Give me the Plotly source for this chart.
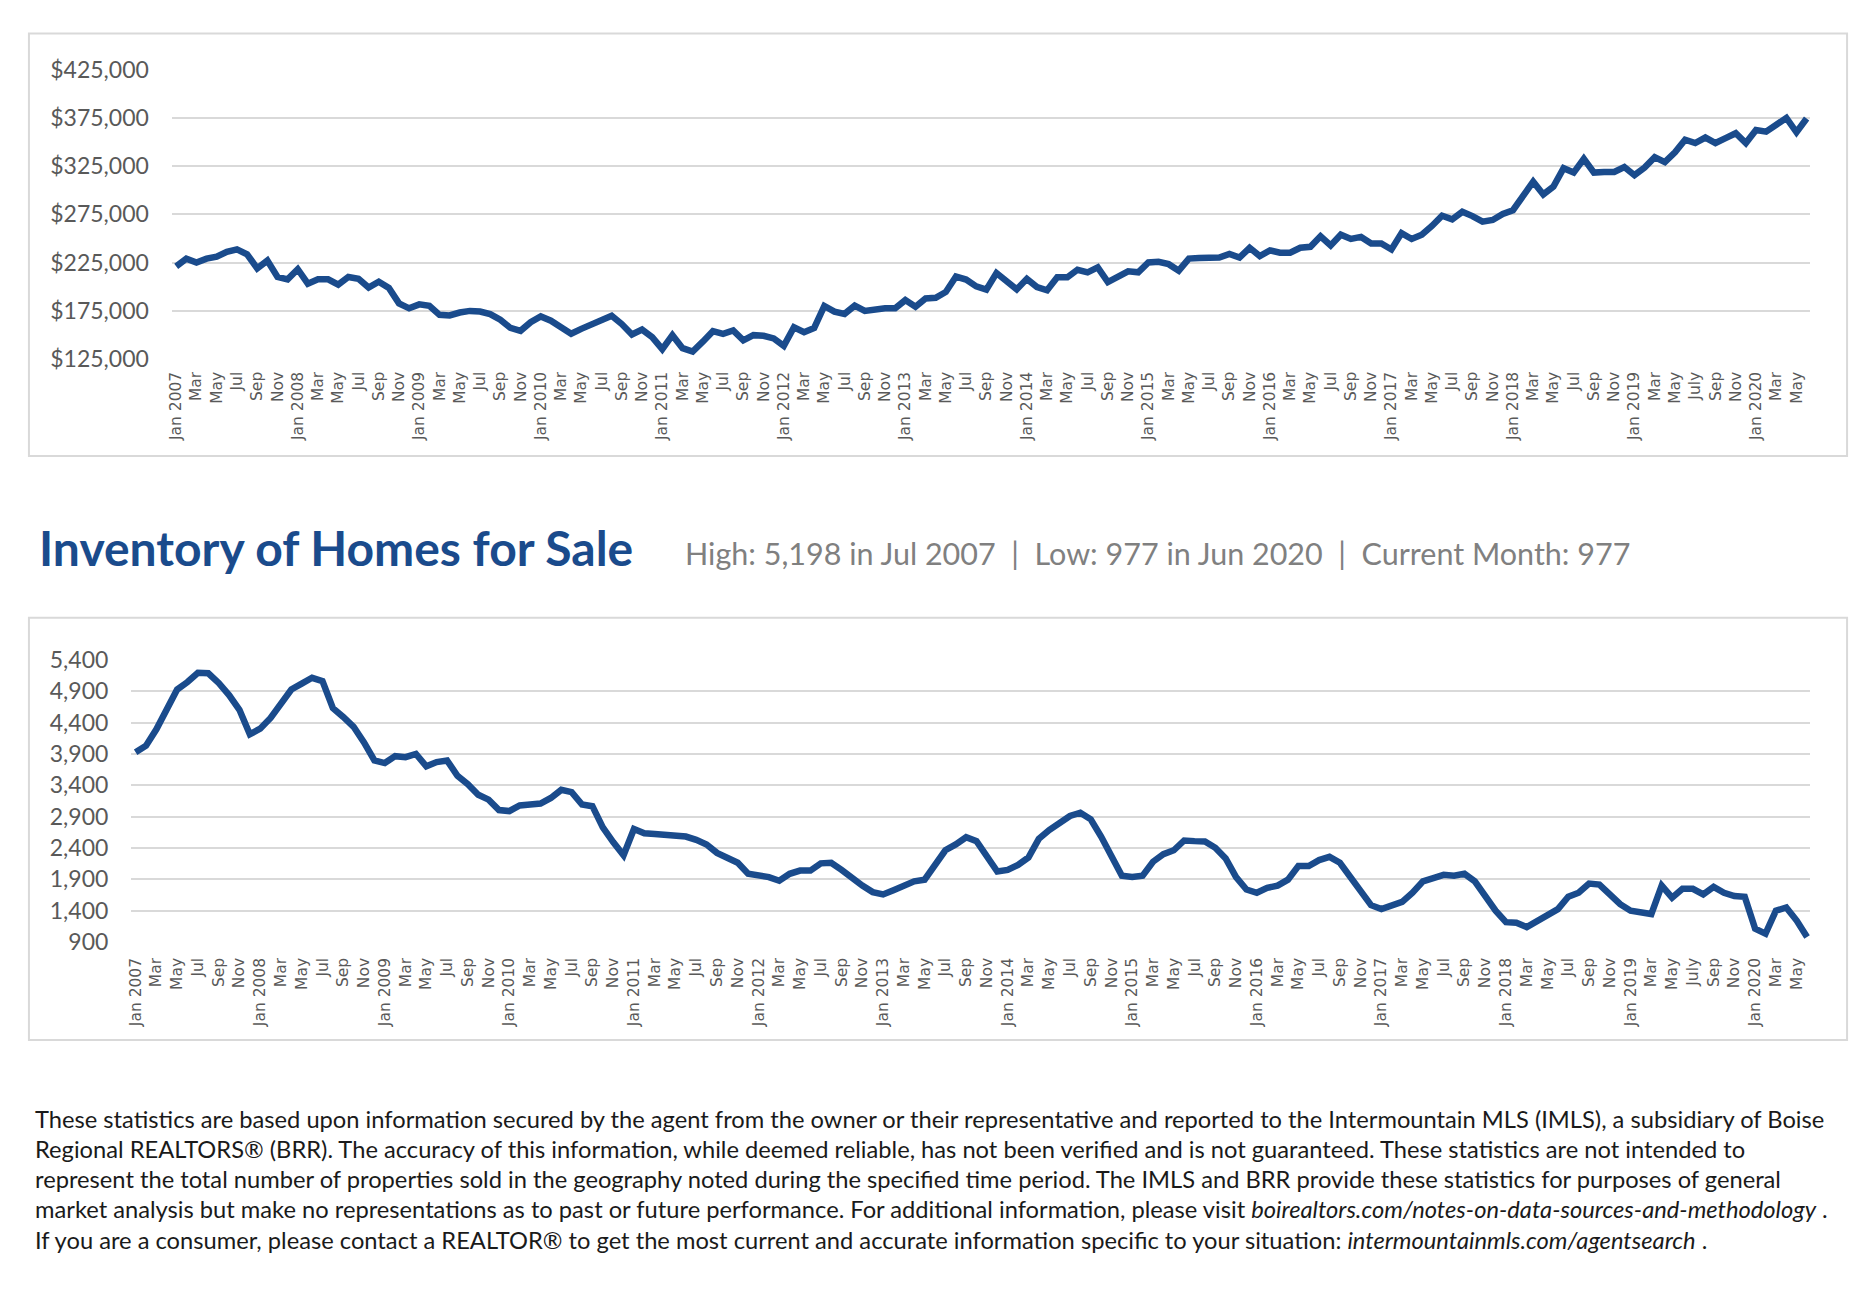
import plotly.graph_objects as go

W, H = 1870, 1304

# Median sales price by month, Jan 2007 - Jun 2020
price = [
    221000, 229000, 225000, 229000, 231000, 236000, 238600, 233500, 219000, 227000, 210000, 207500,  # 2007
    218000, 203000, 207500, 207500, 202000, 210000, 208000, 199000, 205000, 198500, 182500, 177400,  # 2008
    181500, 180000, 170600, 170000, 173000, 174700, 174000, 171300, 165500, 157000, 154000, 163000,  # 2009
    169000, 164500, 157700, 151000, 156000, 161000, 165500, 169600, 161000, 150200, 155300, 147500,  # 2010
    134900, 149500, 136000, 132500, 142700, 153600, 150900, 154300, 144100, 149500, 148800, 146100,  # 2011
    138300, 157700, 152600, 157000, 179800, 174000, 171600, 180100, 174700, 176700, 177400, 177400,  # 2012
    185900, 179100, 187600, 188300, 194400, 210400, 207300, 200200, 196800, 214100, 206300, 197100,  # 2013
    208000, 199500, 196100, 209700, 209700, 217500, 214800, 219900, 204600, 209700, 215800, 214800,  # 2014
    225000, 225700, 223300, 216500, 229100, 229800, 230100, 230100, 233900, 230100, 240300, 231800,  # 2015
    237600, 235200, 235200, 240300, 241300, 252200, 242700, 253900, 249500, 251600, 244800, 244800,  # 2016
    238600, 255600, 249500, 253900, 263000, 273700, 269900, 277700, 273300, 267500, 269200, 275400,  # 2017
    279400, 294700, 309000, 295800, 303900, 323000, 318500, 332800, 318500, 319200, 319200, 324300,  # 2018
    315800, 323700, 334500, 329400, 339600, 352600, 349200, 354900, 349200, 354300, 359400, 349200,  # 2019
    362800, 361100, 367900, 375300, 360400, 374700,                                                  # 2020
]

# Inventory of homes for sale by month, Jan 2007 - Jun 2020
inventory = [
    3928, 4033, 4294, 4633, 4930, 5050, 5198, 5190, 5035, 4842, 4607, 4215,  # 2007
    4304, 4476, 4685, 4930, 5024, 5118, 5066, 4633, 4492, 4335, 4085, 3798,  # 2008
    3756, 3866, 3850, 3902, 3704, 3772, 3798, 3552, 3417, 3250, 3171, 3005,  # 2009
    2989, 3078, 3093, 3109, 3198, 3328, 3292, 3093, 3067, 2728, 2493, 2284,  # 2010
    2702, 2634, 2623, 2613, 2613, 2582, 2530, 2456, 2321, 2248, 2164, 1987,  # 2011
    1956, 1935, 1877, 1987, 2039, 2039, 2154, 2164, 2049, 1919, 1799, 1695,  # 2012
    1658, 1726, 1799, 1867, 1893, 2112, 2363, 2456, 2571, 2509, 2258, 2023,  # 2013
    2049, 2128, 2248, 2545, 2686, 2790, 2910, 2963, 2858, 2582, 2258, 1956,  # 2014
    1935, 1956, 2180, 2300, 2363, 2519, 2509, 2503, 2404, 2232, 1935, 1736,  # 2015
    1684, 1762, 1799, 1893, 2112, 2112, 2206, 2258, 2164, 1945, 1726, 1486,  # 2016
    1423, 1486, 1538, 1684, 1867, 1919, 1971, 1956, 1987, 1867, 1632, 1397,  # 2017
    1214, 1204, 1136, 1240, 1345, 1423, 1621, 1684, 1830, 1815, 1658, 1501,  # 2018
    1397, 1360, 1345, 1799, 1606, 1747, 1747, 1658, 1778, 1684, 1632, 1621,  # 2019
    1110, 1032, 1397, 1449, 1240, 977,                                       # 2020
]

# x tick labels, one every other month
tick_labels = [
    "Jan 2007", "Mar", "May", "Jul", "Sep", "Nov",
    "Jan 2008", "Mar", "May", "Jul", "Sep", "Nov",
    "Jan 2009", "Mar", "May", "Jul", "Sep", "Nov",
    "Jan 2010", "Mar", "May", "Jul", "Sep", "Nov",
    "Jan 2011", "Mar", "May", "Jul", "Sep", "Nov",
    "Jan 2012", "Mar", "May", "Jul", "Sep", "Nov",
    "Jan 2013", "Mar", "May", "Jul", "Sep", "Nov",
    "Jan 2014", "Mar", "May", "Jul", "Sep", "Nov",
    "Jan 2015", "Mar", "May", "Jul", "Sep", "Nov",
    "Jan 2016", "Mar", "May", "Jul", "Sep", "Nov",
    "Jan 2017", "Mar", "May", "Jul", "Sep", "Nov",
    "Jan 2018", "Mar", "May", "Jul", "Sep", "Nov",
    "Jan 2019", "Mar", "May", "July", "Sep", "Nov",
    "Jan 2020", "Mar", "May",
]

price_ticks = [125000, 175000, 225000, 275000, 325000, 375000, 425000]
inventory_ticks = [900, 1400, 1900, 2400, 2900, 3400, 3900, 4400, 4900, 5400]

title = "Inventory of Homes for Sale"
subtitle = "High: 5,198 in Jul 2007\u00a0\u00a0|\u00a0\u00a0Low: 977 in Jun 2020\u00a0\u00a0|\u00a0\u00a0Current Month: 977"

footnote = [
    "These statistics are based upon information secured by the agent from the owner or their representative and reported to the Intermountain MLS (IMLS), a subsidiary of Boise",
    "Regional REALTORS® (BRR). The accuracy of this information, while deemed reliable, has not been verified and is not guaranteed. These statistics are not intended to",
    "represent the total number of properties sold in the geography noted during the specified time period. The IMLS and BRR provide these statistics for purposes of general",
    "market analysis but make no representations as to past or future performance. For additional information, please visit <i>boirealtors.com/notes-on-data-sources-and-methodology</i> .",
    "If you are a consumer, please contact a REALTOR® to get the most current and accurate information specific to your situation: <i>intermountainmls.com/agentsearch</i> .",
]

BLUE = "#1a4b8c"
GRID = "#d9d9d9"
TICK = "#595959"


def fx(p):
    # pixel column -> paper fraction
    return p / W


def fy(p):
    # pixel row (from top) -> paper fraction
    return 1 - p / H


months = list(range(len(price)))
tick_pos = months[::2]

fig = go.Figure()
fig.add_trace(go.Scatter(x=months, y=price, mode="lines",
                         line=dict(color=BLUE, width=6.5),
                         xaxis="x", yaxis="y", hoverinfo="skip"))
fig.add_trace(go.Scatter(x=months, y=inventory, mode="lines",
                         line=dict(color=BLUE, width=6.5),
                         xaxis="x2", yaxis="y2", hoverinfo="skip"))

xtick_font = dict(family="DejaVu Sans", size=15.5, color=TICK)
ytick_font = dict(family="Lato", size=23, color=TICK)

common_x = dict(tickmode="array", tickvals=tick_pos, ticktext=tick_labels,
                tickangle=-90, tickfont=xtick_font, showgrid=False,
                zeroline=False, showline=False, ticks="")
common_y = dict(tickmode="array", showgrid=True, gridcolor=GRID, gridwidth=1.6,
                zeroline=False, showline=False, ticks="", tickfont=ytick_font,
                ticklabelstandoff=22)

fig.update_layout(
    width=W, height=H,
    margin=dict(l=0, r=0, t=0, b=0),
    paper_bgcolor="white", plot_bgcolor="white",
    showlegend=False,
    xaxis=dict(common_x, domain=[fx(167.3), fx(1810)], range=[-0.43, 161.35],
               anchor="y", ticklabelstandoff=8),
    yaxis=dict(common_y, domain=[fy(352.7), fy(56.3)], range=[124000, 426000],
               tickvals=price_ticks, tickformat="$,.0f", anchor="x"),
    xaxis2=dict(common_x, domain=[fx(126.7), fx(1810)], range=[-0.41, 161.3],
                anchor="y2", ticklabelstandoff=11),
    yaxis2=dict(common_y, domain=[fy(947.7), fy(658.3)], range=[885, 5415],
                tickvals=inventory_ticks, tickformat=",d", anchor="x2"),
)

# Panel borders
for top, bottom in [(20, 451), (616, 1047)]:
    fig.add_shape(type="rect", xref="paper", yref="paper",
                  x0=fx(24), x1=fx(1847), y0=fy(bottom), y1=fy(top),
                  line=dict(color=GRID, width=2), fillcolor="rgba(0,0,0,0)",
                  layer="below")

# Section heading
fig.add_annotation(x=fx(32), y=fy(544), xref="paper", yref="paper",
                   xanchor="left", yanchor="middle", showarrow=False,
                   text="<b>" + title + "</b>",
                   font=dict(family="Lato", size=48, color=BLUE))
fig.add_annotation(x=fx(680), y=fy(550), xref="paper", yref="paper",
                   xanchor="left", yanchor="middle", showarrow=False,
                   text=subtitle,
                   font=dict(family="Lato", size=30.5, color="#808080"))

# Disclaimer text, one annotation per line
for i, line in enumerate(footnote):
    fig.add_annotation(x=fx(28), y=fy(1127 + 30.9 * i), xref="paper", yref="paper",
                       xanchor="left", yanchor="middle", showarrow=False,
                       text=line, align="left",
                       font=dict(family="Lato", size=23.7, color="#1a1a1a"))

# page body margin would push the figure off the 1870x1304 window
fig.write_html("out.html", config={"displayModeBar": False},
               post_script="document.body.style.margin='0';")
